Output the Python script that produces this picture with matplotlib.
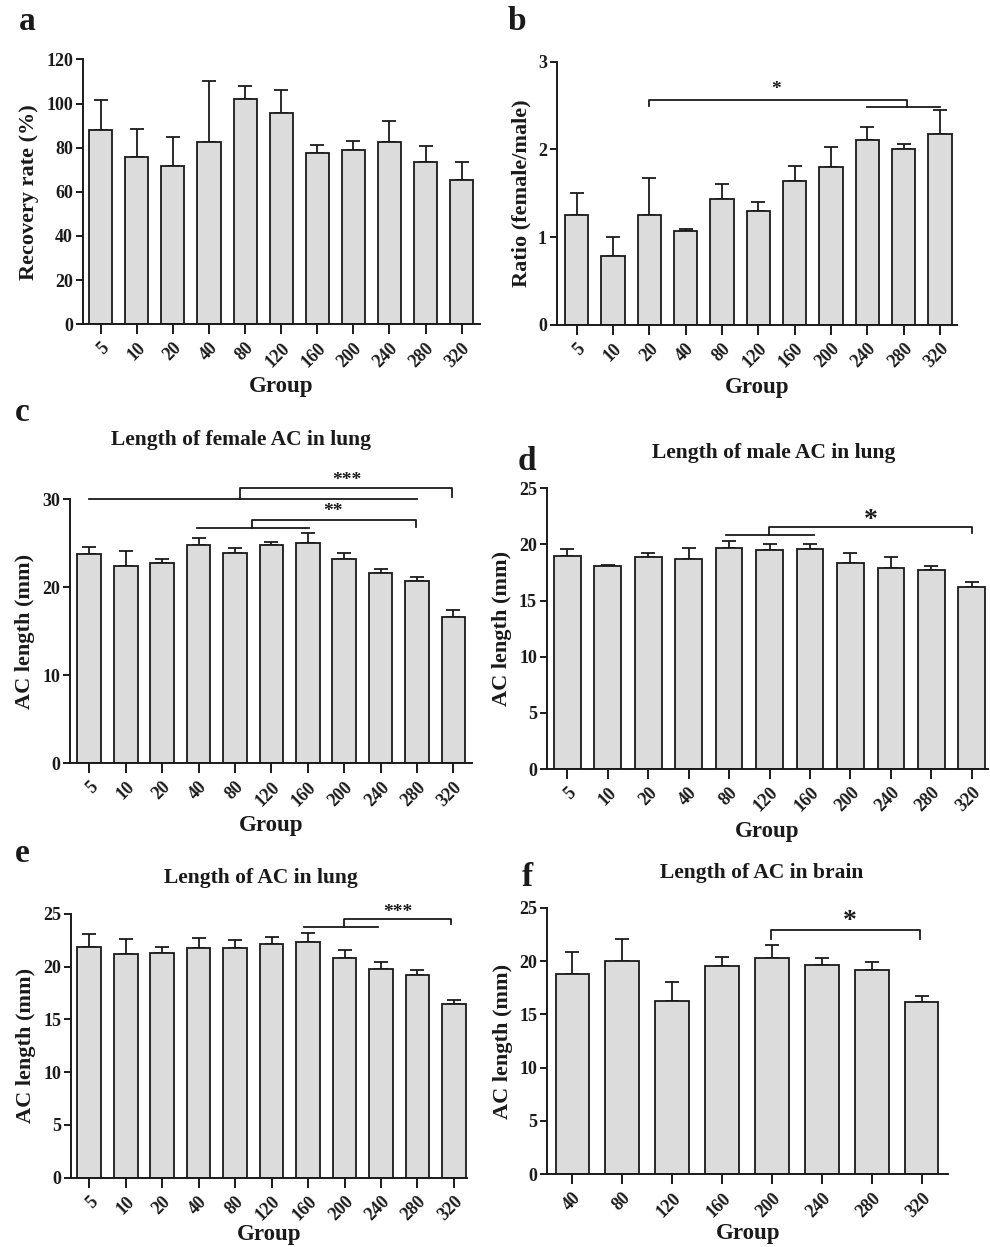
import numpy as np
import matplotlib
matplotlib.use("Agg")
import matplotlib.pyplot as plt

plt.rcParams['font.family'] = ['Liberation Serif', 'DejaVu Serif']
plt.rcParams['font.weight'] = 'bold'
plt.rcParams['axes.labelweight'] = 'bold'
plt.rcParams['axes.titleweight'] = 'bold'

# group labels
groups_all = ['5', '10', '20', '40', '80', '120', '160', '200', '240', '280', '320']
groups_brain = ['40', '80', '120', '160', '200', '240', '280', '320']

# values (mean, upper error)
recovery_mean = [88.0, 75.9, 71.9, 82.4, 102.3, 95.7, 77.8, 79.0, 82.8, 73.7, 65.3]
recovery_err = [13.6, 12.8, 13.0, 27.8, 5.6, 10.5, 3.5, 4.0, 9.4, 7.1, 8.4]

ratio_mean = [1.25, 0.78, 1.25, 1.07, 1.44, 1.30, 1.64, 1.80, 2.11, 2.01, 2.17]
ratio_err = [0.25, 0.22, 0.42, 0.02, 0.17, 0.10, 0.17, 0.23, 0.15, 0.05, 0.28]

female_mean = [23.75, 22.46, 22.73, 24.77, 23.94, 24.77, 25.08, 23.26, 21.67, 20.72, 16.59]
female_err = [0.87, 1.63, 0.45, 0.83, 0.56, 0.42, 1.13, 0.60, 0.41, 0.42, 0.83]

male_mean = [18.97, 18.08, 18.91, 18.73, 19.69, 19.48, 19.60, 18.32, 17.90, 17.70, 16.24]
male_err = [0.60, 0.09, 0.36, 0.93, 0.65, 0.59, 0.41, 0.89, 1.01, 0.41, 0.45]

lung_mean = [21.84, 21.21, 21.33, 21.78, 21.81, 22.12, 22.35, 20.83, 19.78, 19.22, 16.47]
lung_err = [1.30, 1.42, 0.54, 0.91, 0.69, 0.73, 0.85, 0.79, 0.67, 0.47, 0.38]

brain_mean = [18.75, 20.0, 16.25, 19.53, 20.31, 19.63, 19.13, 16.16]
brain_err = [2.06, 2.03, 1.75, 0.85, 1.19, 0.68, 0.78, 0.56]

INK = '#1a1a1a'
BAR = '#dcdcdc'

fig = plt.figure(figsize=(9.9, 12.47), dpi=100)


def bar_panel(rect, labels, mean, err, ylim, yticks, ylabel, xlim, width, xpad=4):
    ax = fig.add_axes(rect)
    x = np.arange(len(labels))
    ax.bar(x, mean, width=width, color=BAR, edgecolor=INK, linewidth=1.3, zorder=2)
    ax.errorbar(x, mean, yerr=[np.zeros(len(err)), err], fmt='none', ecolor=INK,
                elinewidth=1.3, capsize=5, capthick=1.3, zorder=1)
    ax.set_xlim(*xlim)
    ax.set_ylim(*ylim)
    ax.set_yticks(yticks)
    ax.set_xticks(x)
    ax.set_xticklabels(labels, rotation=45, ha='right', rotation_mode='anchor')
    for s in ['top', 'right']:
        ax.spines[s].set_visible(False)
    for s in ['left', 'bottom']:
        ax.spines[s].set_linewidth(1.4)
        ax.spines[s].set_color(INK)
    ax.tick_params(axis='both', direction='out', width=1.4, color=INK, labelsize=13, labelcolor=INK)
    ax.tick_params(axis='x', length=7, pad=4)
    ax.tick_params(axis='y', length=5, pad=2)
    ax.set_ylabel(ylabel, fontsize=16, color=INK, labelpad=5)
    ax.set_xlabel('Group', fontsize=16.5, color=INK, labelpad=xpad)
    return ax


def group_line(ax, x1, x2, y):
    ax.plot([x1, x2], [y, y], color=INK, lw=1.3, clip_on=False)


def bracket(ax, x1, x2, y, yl, yr, txt, tx, ty, size=14):
    ax.plot([x1, x1, x2, x2], [yl, y, y, yr], color=INK, lw=1.3, clip_on=False)
    ax.text(tx, ty, txt, ha='center', va='center', fontsize=size, color=INK)


# a
ax_a = bar_panel([0.0835, 0.740, 0.401, 0.2123], groups_all, recovery_mean, recovery_err,
                 (0, 120), range(0, 121, 20), 'Recovery rate (%)', (-0.5, 10.5), 0.64)

# b
ax_b = bar_panel([0.5623, 0.7394, 0.404, 0.2112], groups_all, ratio_mean, ratio_err,
                 (0, 3), [0, 1, 2, 3], 'Ratio (female/male)', (-0.55, 10.46), 0.64)
group_line(ax_b, 8, 10, 2.48)
bracket(ax_b, 2, 9.1, 2.56, 2.49, 2.48, '*', 5.5, 2.68)

# c
ax_c = bar_panel([0.0707, 0.3879, 0.4057, 0.2117], groups_all, female_mean, female_err,
                 (0, 30), [0, 10, 20, 30], 'AC length (mm)', (-0.53, 10.5), 0.65)
group_line(ax_c, 0, 9, 30.0)
bracket(ax_c, 4.14, 9.95, 31.25, 30.0, 30.3, '***', 7.07, 32.1)
group_line(ax_c, 2.95, 6.02, 26.7)
bracket(ax_c, 4.48, 8.96, 27.65, 26.7, 26.85, '**', 6.7, 28.6)

# d
ax_d = bar_panel([0.5522, 0.3833, 0.4458, 0.2251], groups_all, male_mean, male_err,
                 (0, 25), range(0, 26, 5), 'AC length (mm)', (-0.51, 10.4), 0.66)
group_line(ax_d, 3.92, 6.11, 20.81)
bracket(ax_d, 4.99, 10.0, 21.53, 20.81, 21.05, '*', 7.49, 22.1, size=20)

# e
ax_e = bar_panel([0.0717, 0.0556, 0.3997, 0.2115], groups_all, lung_mean, lung_err,
                 (0, 25), range(0, 26, 5), 'AC length (mm)', (-0.5, 10.35), 0.65, xpad=0)
group_line(ax_e, 5.9, 7.93, 23.74)
bracket(ax_e, 6.99, 9.91, 24.49, 23.74, 24.0, '***', 8.47, 25.1)

# f
ax_f = bar_panel([0.5528, 0.0583, 0.405, 0.2138], groups_brain, brain_mean, brain_err,
                 (0, 25), range(0, 26, 5), 'AC length (mm)', (-0.5, 7.53), 0.67, xpad=2)
bracket(ax_f, 3.99, 6.97, 22.94, 22.03, 22.03, '*', 5.55, 23.7, size=20)

# panel titles (placed in figure pixels)
titles = ['Length of female AC in lung', 'Length of male AC in lung',
          'Length of AC in lung', 'Length of AC in brain']
for t, (px, py) in zip(titles, [(241, 440), (774, 453), (261, 878), (762, 873)]):
    fig.text(px / 990, 1 - py / 1247, t, fontsize=15.5, fontweight='bold', color=INK,
             ha='center', va='center')

# panel letters
for letter, (px, py) in zip('abcdef', [(27, 22), (517, 22), (22, 412), (527, 462), (22, 853), (527, 877)]):
    fig.text(px / 990, 1 - py / 1247, letter, fontsize=24, fontweight='bold', color=INK,
             ha='center', va='center')

fig.savefig('out.png', dpi=100)
